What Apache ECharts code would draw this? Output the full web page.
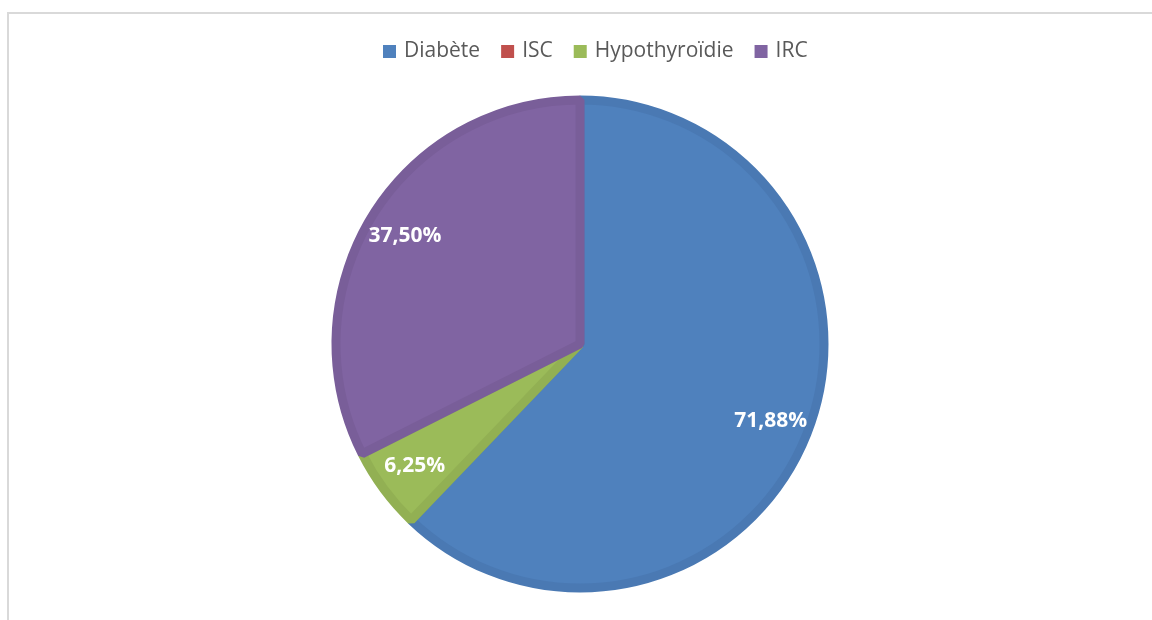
<!DOCTYPE html>
<html>
<head>
<meta charset="utf-8">
<script src="https://cdn.jsdelivr.net/npm/echarts@6/dist/echarts.min.js"></script>
<style>
  html, body { margin: 0; padding: 0; background: #ffffff; }
  #frame { position: absolute; left: 7px; top: 12px; width: 1145px; height: 608px;
           border-top: 2px solid #d9d9d9; border-left: 2px solid #d9d9d9; box-sizing: border-box; }
  #chart { position: absolute; left: 0; top: 0; width: 1152px; height: 620px; }
</style>
</head>
<body>
<div id="frame"></div>
<div id="chart"></div>
<script>
// Pathologies associées (%)
const categories = ['Diabète', 'ISC', 'Hypothyroïdie', 'IRC'];
const values = [71.88, 0, 6.25, 37.50];
const fillColors = ['#4F81BD', '#C0504D', '#9BBB59', '#8064A2'];
const edgeColors = ['#4A79B3', '#B54B48', '#92B053', '#795E99'];

const fmt = v => v.toFixed(2).replace('.', ',') + '%';

const center = [580, 344];

const sliceData = categories.map((name, i) => ({
  name,
  value: values[i],
  itemStyle: {
    color: fillColors[i],
    borderColor: edgeColors[i],
    borderWidth: values[i] === 0 ? 0 : 9
  }
}));

const labelData = categories.map((name, i) => ({
  name,
  value: values[i],
  label: { show: values[i] !== 0 }
}));

const chart = echarts.init(document.getElementById('chart'), null, { renderer: 'canvas' });
chart.setOption({
  animation: false,
  color: fillColors,
  legend: {
    top: 36,
    left: 378,
    itemWidth: 13,
    itemHeight: 13,
    itemGap: 21,
    icon: 'rect',
    itemStyle: { borderWidth: 0 },
    data: categories,
    textStyle: { fontFamily: 'Open Sans', fontSize: 21, color: '#595959', padding: [0, 0, 0, 3] }
  },
  series: [
    {
      type: 'pie',
      center,
      radius: [0, 244],
      startAngle: 90,
      clockwise: true,
      silent: true,
      label: { show: false },
      labelLine: { show: false },
      itemStyle: { borderJoin: 'bevel' },
      data: sliceData
    },
    {
      type: 'pie',
      center,
      radius: [160, 245],
      startAngle: 90,
      clockwise: true,
      silent: true,
      z: 5,
      itemStyle: { color: 'rgba(0,0,0,0)', borderWidth: 0 },
      label: {
        position: 'inside',
        formatter: p => fmt(p.value),
        fontFamily: 'Open Sans',
        fontWeight: 'bold',
        fontSize: 21,
        color: '#ffffff'
      },
      labelLine: { show: false },
      data: labelData
    }
  ]
});
</script>
</body>
</html>
